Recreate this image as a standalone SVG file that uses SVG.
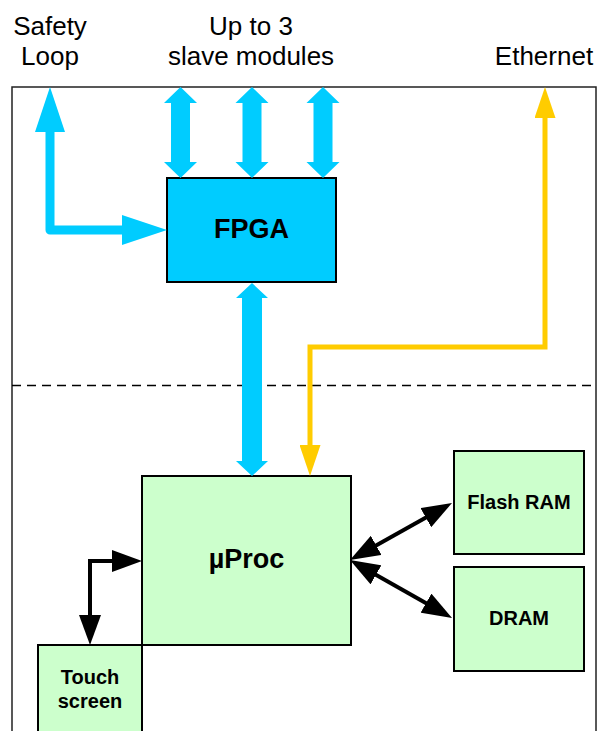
<svg xmlns="http://www.w3.org/2000/svg" xmlns:xlink="http://www.w3.org/1999/xlink" width="610" height="731" viewBox="0 0 610 731">
<style>
.lbl{font-family:"Liberation Sans",Arial,sans-serif;font-size:26px;fill:#000;text-anchor:middle}
.nt{font-family:"Liberation Sans",Arial,sans-serif;font-weight:bold;fill:#000;text-anchor:middle}
.box{stroke:#000;stroke-width:2}
.green{fill:#CCFFCC}
.blue{fill:#00CCFF}
.wide{fill:#00CCFF;stroke:none}
</style>
<defs>
<path id="slaveArrow" d="M0,0 l16.5,16 h-7 v59 h7 L0,91 l-16.5,-16 h7 v-59 h-7 z"/>
<marker id="blk" markerUnits="userSpaceOnUse" markerWidth="30" markerHeight="22" refX="15" refY="11" orient="auto-start-reverse" viewBox="0 0 30 22">
<path d="M0,0 L30,11 L0,22 z" fill="#000"/>
</marker>
<marker id="yel" markerUnits="userSpaceOnUse" markerWidth="31" markerHeight="21" refX="16" refY="10.5" orient="auto-start-reverse" viewBox="0 0 31 21">
<path d="M0,0 L31,10.5 L0,21 z" fill="#FFCC00"/>
</marker>
<marker id="cyan" markerUnits="userSpaceOnUse" markerWidth="45" markerHeight="30" refX="23" refY="15" orient="auto" viewBox="0 0 45 30">
<path d="M0,0 L45,15 L0,30 z" fill="#00CCFF"/>
</marker>
</defs>
<rect width="610" height="731" fill="#fff"/>
<g id="frame">
<rect x="12" y="87" width="584" height="670" fill="none" stroke="#222" stroke-width="1.5"/>
<line x1="12" y1="385.5" x2="596" y2="385.5" stroke="#000" stroke-width="1.5" stroke-dasharray="9,6"/>
</g>
<g id="labels">
<text class="lbl" x="50" y="35">Safety</text>
<text class="lbl" x="50" y="65">Loop</text>
<text class="lbl" x="251" y="35">Up to 3</text>
<text class="lbl" x="251" y="65">slave modules</text>
<text class="lbl" x="544" y="65">Ethernet</text>
</g>
<g id="fpga">
<rect class="box blue" x="167" y="178" width="169" height="104"/>
<text class="nt" x="251.5" y="238" font-size="27">FPGA</text>
</g>
<g id="uproc">
<rect class="box green" x="142" y="476" width="209" height="169"/>
<text class="nt" x="246.5" y="568" font-size="27">µProc</text>
</g>
<g id="flash">
<rect class="box green" x="454" y="451" width="130" height="103"/>
<text class="nt" x="519" y="509" font-size="20">Flash RAM</text>
</g>
<g id="dram">
<rect class="box green" x="454" y="567" width="130" height="104"/>
<text class="nt" x="519" y="625" font-size="20">DRAM</text>
</g>
<g id="touch">
<rect class="box green" x="38" y="645" width="104" height="110"/>
<text class="nt" x="90" y="684" font-size="20">Touch</text>
<text class="nt" x="90" y="708" font-size="20">screen</text>
</g>
<g id="connectors">
<use xlink:href="#slaveArrow" href="#slaveArrow" class="wide" x="180.5" y="87"/>
<use xlink:href="#slaveArrow" href="#slaveArrow" class="wide" x="252" y="87"/>
<use xlink:href="#slaveArrow" href="#slaveArrow" class="wide" x="323" y="87"/>
<path class="wide" d="M252,283 l16,15 h-6 v163 h6 L252,476 l-16,-15 h6 v-163 h-6 z"/>
<path d="M50,230 V109 M50,230 H145" fill="none" stroke="#00CCFF" stroke-width="9" stroke-linejoin="round" stroke-linecap="round"/>
<path d="M50,230 V109" fill="none" stroke="none" marker-end="url(#cyan)"/>
<path d="M50,230 H145" fill="none" stroke="none" marker-end="url(#cyan)"/>
<path d="M310,461 V347 H545 V102" fill="none" stroke="#FFCC00" stroke-width="5" marker-start="url(#yel)" marker-end="url(#yel)"/>
<path d="M90,630 V561 H127" fill="none" stroke="#000" stroke-width="4" marker-start="url(#blk)" marker-end="url(#blk)"/>
<path d="M363.1,552.7 L438.9,510.3" fill="none" stroke="#000" stroke-width="4" marker-start="url(#blk)" marker-end="url(#blk)"/>
<path d="M363,567.4 L439,610.6" fill="none" stroke="#000" stroke-width="4" marker-start="url(#blk)" marker-end="url(#blk)"/>
</g>
</svg>
